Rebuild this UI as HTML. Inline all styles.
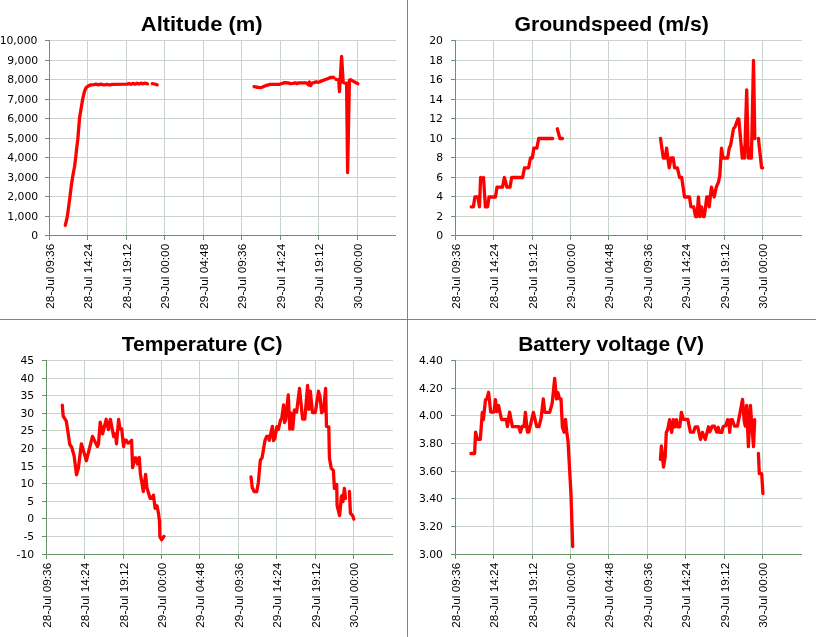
<!DOCTYPE html>
<html><head><meta charset="utf-8"><title>Flight telemetry charts</title>
<style>
html,body{margin:0;padding:0;background:#fff;}
svg{display:block;}
.t{font-family:"Liberation Sans",sans-serif;font-weight:bold;font-size:21px;fill:#000;}
.y{font-family:"DejaVu Sans","Liberation Sans",sans-serif;font-size:10.8px;fill:#000;text-anchor:end;}
.x{font-family:"Liberation Sans",sans-serif;font-size:11.8px;fill:#000;text-anchor:end;}
.g{stroke:#C9D3C9;stroke-width:1;shape-rendering:crispEdges;fill:none;}
.a{shape-rendering:crispEdges;}
.d{fill:none;stroke:#FF0000;stroke-width:3.3;stroke-linejoin:round;stroke-linecap:round;}
</style></head><body>
<svg width="816" height="637" viewBox="0 0 816 637">
<defs>
<pattern id="dz" x="0" y="0" width="2" height="2" patternUnits="userSpaceOnUse">
<rect x="0" y="0" width="2" height="2" fill="#AA80AA"/>
<rect x="0" y="0" width="1" height="1" fill="#598359"/>
<rect x="1" y="1" width="1" height="1" fill="#598359"/>
</pattern>
</defs>
<rect x="0" y="0" width="816" height="637" fill="#FFFFFF"/>
<rect class="a" x="407" y="0" width="1" height="637" fill="url(#dz)"/>
<rect class="a" x="0" y="319" width="816" height="1" fill="url(#dz)"/>

<g>
<rect class="a" x="50" y="216" width="346" height="1" fill="#C9D3C9"/>
<rect class="a" x="50" y="196" width="346" height="1" fill="#C9D3C9"/>
<rect class="a" x="50" y="177" width="346" height="1" fill="#C9D3C9"/>
<rect class="a" x="50" y="157" width="346" height="1" fill="#C9D3C9"/>
<rect class="a" x="50" y="138" width="346" height="1" fill="#C9D3C9"/>
<rect class="a" x="50" y="118" width="346" height="1" fill="#C9D3C9"/>
<rect class="a" x="50" y="99" width="346" height="1" fill="#C9D3C9"/>
<rect class="a" x="50" y="79" width="346" height="1" fill="#C9D3C9"/>
<rect class="a" x="50" y="60" width="346" height="1" fill="#C9D3C9"/>
<rect class="a" x="50" y="40" width="346" height="1" fill="#C9D3C9"/>
<rect class="a" x="87" y="40" width="1" height="195" fill="#C9D3C9"/>
<rect class="a" x="126" y="40" width="1" height="195" fill="#C9D3C9"/>
<rect class="a" x="164" y="40" width="1" height="195" fill="#C9D3C9"/>
<rect class="a" x="203" y="40" width="1" height="195" fill="#C9D3C9"/>
<rect class="a" x="241" y="40" width="1" height="195" fill="#C9D3C9"/>
<rect class="a" x="280" y="40" width="1" height="195" fill="#C9D3C9"/>
<rect class="a" x="318" y="40" width="1" height="195" fill="#C9D3C9"/>
<rect class="a" x="357" y="40" width="1" height="195" fill="#C9D3C9"/>
<rect class="a" x="49" y="40" width="1" height="196" fill="url(#dz)"/>
<rect class="a" x="49" y="235" width="347" height="1" fill="url(#dz)"/>
<rect class="a" x="45" y="235" width="4" height="1" fill="url(#dz)"/>
<rect class="a" x="45" y="216" width="4" height="1" fill="url(#dz)"/>
<rect class="a" x="45" y="196" width="4" height="1" fill="url(#dz)"/>
<rect class="a" x="45" y="177" width="4" height="1" fill="url(#dz)"/>
<rect class="a" x="45" y="157" width="4" height="1" fill="url(#dz)"/>
<rect class="a" x="45" y="138" width="4" height="1" fill="url(#dz)"/>
<rect class="a" x="45" y="118" width="4" height="1" fill="url(#dz)"/>
<rect class="a" x="45" y="99" width="4" height="1" fill="url(#dz)"/>
<rect class="a" x="45" y="79" width="4" height="1" fill="url(#dz)"/>
<rect class="a" x="45" y="60" width="4" height="1" fill="url(#dz)"/>
<rect class="a" x="45" y="40" width="4" height="1" fill="url(#dz)"/>
<rect class="a" x="49" y="236" width="1" height="4" fill="url(#dz)"/>
<rect class="a" x="87" y="236" width="1" height="4" fill="url(#dz)"/>
<rect class="a" x="126" y="236" width="1" height="4" fill="url(#dz)"/>
<rect class="a" x="164" y="236" width="1" height="4" fill="url(#dz)"/>
<rect class="a" x="203" y="236" width="1" height="4" fill="url(#dz)"/>
<rect class="a" x="241" y="236" width="1" height="4" fill="url(#dz)"/>
<rect class="a" x="280" y="236" width="1" height="4" fill="url(#dz)"/>
<rect class="a" x="318" y="236" width="1" height="4" fill="url(#dz)"/>
<rect class="a" x="357" y="236" width="1" height="4" fill="url(#dz)"/>
<text class="t" x="140.8" y="31.4" textLength="121.8" lengthAdjust="spacingAndGlyphs">Altitude (m)</text>
<text class="y" x="38.2" y="239.3">0</text>
<text class="y" x="38.2" y="220.3">1,000</text>
<text class="y" x="38.2" y="200.3">2,000</text>
<text class="y" x="38.2" y="181.3">3,000</text>
<text class="y" x="38.2" y="161.3">4,000</text>
<text class="y" x="38.2" y="142.3">5,000</text>
<text class="y" x="38.2" y="122.3">6,000</text>
<text class="y" x="38.2" y="103.3">7,000</text>
<text class="y" x="38.2" y="83.3">8,000</text>
<text class="y" x="38.2" y="64.3">9,000</text>
<text class="y" x="37.4" y="44.3">10,000</text>
<text class="x" transform="translate(54.0,243.8) rotate(-90)" x="0" y="0">28-Jul 09:36</text>
<text class="x" transform="translate(92.0,243.8) rotate(-90)" x="0" y="0">28-Jul 14:24</text>
<text class="x" transform="translate(131.0,243.8) rotate(-90)" x="0" y="0">28-Jul 19:12</text>
<text class="x" transform="translate(169.0,243.8) rotate(-90)" x="0" y="0">29-Jul 00:00</text>
<text class="x" transform="translate(208.0,243.8) rotate(-90)" x="0" y="0">29-Jul 04:48</text>
<text class="x" transform="translate(246.0,243.8) rotate(-90)" x="0" y="0">29-Jul 09:36</text>
<text class="x" transform="translate(285.0,243.8) rotate(-90)" x="0" y="0">29-Jul 14:24</text>
<text class="x" transform="translate(323.0,243.8) rotate(-90)" x="0" y="0">29-Jul 19:12</text>
<text class="x" transform="translate(362.0,243.8) rotate(-90)" x="0" y="0">30-Jul 00:00</text>
<polyline class="d" points="65.3,225.4 67.3,216.6 68.7,206.5 70.0,196.5 71.4,185.0 72.8,176.0 74.6,166.3 75.7,157.5 76.5,150.0 77.9,138.4 79.5,118.3 82.6,99.5 84.5,91.3 86.2,87.5 88.9,85.6 91.0,84.9 94.0,84.6 96.0,84.2 98.0,84.8 101.0,84.2 104.0,85.0 107.0,84.3 110.0,85.0 112.0,84.4 127.0,84.2 129.0,83.6 131.0,84.3 133.0,83.4 135.0,84.2 137.0,83.2 139.0,84.0 141.0,83.2 143.0,83.8 145.0,83.1 147.5,83.8"/>
<polyline class="d" points="152.3,83.6 154.5,84.0 157.2,84.8"/>
<polyline class="d" points="254.1,86.6 256.0,87.0 259.7,87.6 262.0,87.3 266.0,85.6 270.0,84.4 279.6,84.3 284.7,82.6 288.0,82.8 290.6,83.6 293.0,83.4 295.0,82.8 297.0,83.6 299.0,82.8 306.5,82.8 308.5,85.0 309.5,82.0 310.7,85.6 312.0,83.0 314.0,82.6 316.0,81.8 318.5,82.4 320.0,81.6 324.0,80.0 328.0,78.6 331.0,77.3 333.8,77.4"/>
<polyline class="d" points="336.0,79.4 338.7,79.8 339.5,91.6 341.6,56.3 343.2,82.5 345.8,83.3 346.6,83.2 347.6,172.5 349.4,80.4 350.4,79.6 354.0,81.6 357.9,83.7"/>
</g>
<g>
<rect class="a" x="456" y="216" width="346" height="1" fill="#C9D3C9"/>
<rect class="a" x="456" y="196" width="346" height="1" fill="#C9D3C9"/>
<rect class="a" x="456" y="177" width="346" height="1" fill="#C9D3C9"/>
<rect class="a" x="456" y="157" width="346" height="1" fill="#C9D3C9"/>
<rect class="a" x="456" y="138" width="346" height="1" fill="#C9D3C9"/>
<rect class="a" x="456" y="118" width="346" height="1" fill="#C9D3C9"/>
<rect class="a" x="456" y="99" width="346" height="1" fill="#C9D3C9"/>
<rect class="a" x="456" y="79" width="346" height="1" fill="#C9D3C9"/>
<rect class="a" x="456" y="60" width="346" height="1" fill="#C9D3C9"/>
<rect class="a" x="456" y="40" width="346" height="1" fill="#C9D3C9"/>
<rect class="a" x="493" y="40" width="1" height="195" fill="#C9D3C9"/>
<rect class="a" x="532" y="40" width="1" height="195" fill="#C9D3C9"/>
<rect class="a" x="570" y="40" width="1" height="195" fill="#C9D3C9"/>
<rect class="a" x="608" y="40" width="1" height="195" fill="#C9D3C9"/>
<rect class="a" x="647" y="40" width="1" height="195" fill="#C9D3C9"/>
<rect class="a" x="685" y="40" width="1" height="195" fill="#C9D3C9"/>
<rect class="a" x="724" y="40" width="1" height="195" fill="#C9D3C9"/>
<rect class="a" x="762" y="40" width="1" height="195" fill="#C9D3C9"/>
<rect class="a" x="455" y="40" width="1" height="196" fill="url(#dz)"/>
<rect class="a" x="455" y="235" width="347" height="1" fill="url(#dz)"/>
<rect class="a" x="451" y="235" width="4" height="1" fill="url(#dz)"/>
<rect class="a" x="451" y="216" width="4" height="1" fill="url(#dz)"/>
<rect class="a" x="451" y="196" width="4" height="1" fill="url(#dz)"/>
<rect class="a" x="451" y="177" width="4" height="1" fill="url(#dz)"/>
<rect class="a" x="451" y="157" width="4" height="1" fill="url(#dz)"/>
<rect class="a" x="451" y="138" width="4" height="1" fill="url(#dz)"/>
<rect class="a" x="451" y="118" width="4" height="1" fill="url(#dz)"/>
<rect class="a" x="451" y="99" width="4" height="1" fill="url(#dz)"/>
<rect class="a" x="451" y="79" width="4" height="1" fill="url(#dz)"/>
<rect class="a" x="451" y="60" width="4" height="1" fill="url(#dz)"/>
<rect class="a" x="451" y="40" width="4" height="1" fill="url(#dz)"/>
<rect class="a" x="455" y="236" width="1" height="4" fill="url(#dz)"/>
<rect class="a" x="493" y="236" width="1" height="4" fill="url(#dz)"/>
<rect class="a" x="532" y="236" width="1" height="4" fill="url(#dz)"/>
<rect class="a" x="570" y="236" width="1" height="4" fill="url(#dz)"/>
<rect class="a" x="608" y="236" width="1" height="4" fill="url(#dz)"/>
<rect class="a" x="647" y="236" width="1" height="4" fill="url(#dz)"/>
<rect class="a" x="685" y="236" width="1" height="4" fill="url(#dz)"/>
<rect class="a" x="724" y="236" width="1" height="4" fill="url(#dz)"/>
<rect class="a" x="762" y="236" width="1" height="4" fill="url(#dz)"/>
<text class="t" x="514.4" y="31.4" textLength="194.4" lengthAdjust="spacingAndGlyphs">Groundspeed (m/s)</text>
<text class="y" x="443.0" y="239.3">0</text>
<text class="y" x="443.0" y="220.3">2</text>
<text class="y" x="443.0" y="200.3">4</text>
<text class="y" x="443.0" y="181.3">6</text>
<text class="y" x="443.0" y="161.3">8</text>
<text class="y" x="443.0" y="142.3">10</text>
<text class="y" x="443.0" y="122.3">12</text>
<text class="y" x="443.0" y="103.3">14</text>
<text class="y" x="443.0" y="83.3">16</text>
<text class="y" x="443.0" y="64.3">18</text>
<text class="y" x="443.0" y="44.3">20</text>
<text class="x" transform="translate(460.0,243.8) rotate(-90)" x="0" y="0">28-Jul 09:36</text>
<text class="x" transform="translate(498.0,243.8) rotate(-90)" x="0" y="0">28-Jul 14:24</text>
<text class="x" transform="translate(537.0,243.8) rotate(-90)" x="0" y="0">28-Jul 19:12</text>
<text class="x" transform="translate(575.0,243.8) rotate(-90)" x="0" y="0">29-Jul 00:00</text>
<text class="x" transform="translate(613.0,243.8) rotate(-90)" x="0" y="0">29-Jul 04:48</text>
<text class="x" transform="translate(652.0,243.8) rotate(-90)" x="0" y="0">29-Jul 09:36</text>
<text class="x" transform="translate(690.0,243.8) rotate(-90)" x="0" y="0">29-Jul 14:24</text>
<text class="x" transform="translate(729.0,243.8) rotate(-90)" x="0" y="0">29-Jul 19:12</text>
<text class="x" transform="translate(767.0,243.8) rotate(-90)" x="0" y="0">30-Jul 00:00</text>
<polyline class="d" points="471.2,206.8 473.4,206.8 474.9,197.0 477.9,197.0 479.5,206.8 480.6,177.5 482.0,179.4 483.5,177.5 485.4,206.8 487.6,206.8 489.0,197.0 495.5,197.0 497.0,187.2 502.5,187.2 504.4,177.5 507.0,187.2 510.0,187.2 511.7,177.5 522.6,177.5 524.5,167.8 528.6,167.8 530.5,158.0 532.3,158.0 533.8,148.2 536.8,148.2 538.7,138.5 552.7,138.5"/>
<polyline class="d" points="557.3,128.8 559.9,138.5 562.5,138.5"/>
<polyline class="d" points="660.5,138.5 663.3,158.0 665.4,158.0 666.6,148.2 669.2,167.8 671.1,158.0 673.2,158.0 674.6,167.8 677.4,167.8 679.6,177.5 681.7,177.5 684.5,197.0 689.5,197.0 690.9,206.8 693.7,206.8 695.5,216.5 697.0,216.5 698.4,197.0 700.0,216.5 701.5,206.8 703.2,216.5 704.3,216.5 706.8,197.0 708.3,197.0 709.2,206.8 711.4,187.2 714.2,197.0 716.3,187.2 718.4,182.4 719.8,175.6 721.5,148.2 722.9,158.0 727.7,158.0 729.2,148.2 730.6,145.3 733.5,128.8 735.1,126.8 737.8,119.0 738.8,119.0 742.3,158.0 743.3,148.2 744.6,158.0 746.7,89.8 748.3,158.0 749.2,148.2 750.1,158.0 751.4,158.0 753.5,60.5 754.8,138.5"/>
<polyline class="d" points="758.4,138.5 761.6,167.8 762.7,167.8"/>
</g>
<g>
<rect class="a" x="47" y="536" width="346" height="1" fill="#C9D3C9"/>
<rect class="a" x="47" y="518" width="346" height="1" fill="#C9D3C9"/>
<rect class="a" x="47" y="501" width="346" height="1" fill="#C9D3C9"/>
<rect class="a" x="47" y="483" width="346" height="1" fill="#C9D3C9"/>
<rect class="a" x="47" y="466" width="346" height="1" fill="#C9D3C9"/>
<rect class="a" x="47" y="448" width="346" height="1" fill="#C9D3C9"/>
<rect class="a" x="47" y="430" width="346" height="1" fill="#C9D3C9"/>
<rect class="a" x="47" y="413" width="346" height="1" fill="#C9D3C9"/>
<rect class="a" x="47" y="395" width="346" height="1" fill="#C9D3C9"/>
<rect class="a" x="47" y="378" width="346" height="1" fill="#C9D3C9"/>
<rect class="a" x="47" y="360" width="346" height="1" fill="#C9D3C9"/>
<rect class="a" x="84" y="360" width="1" height="194" fill="#C9D3C9"/>
<rect class="a" x="123" y="360" width="1" height="194" fill="#C9D3C9"/>
<rect class="a" x="161" y="360" width="1" height="194" fill="#C9D3C9"/>
<rect class="a" x="199" y="360" width="1" height="194" fill="#C9D3C9"/>
<rect class="a" x="238" y="360" width="1" height="194" fill="#C9D3C9"/>
<rect class="a" x="276" y="360" width="1" height="194" fill="#C9D3C9"/>
<rect class="a" x="315" y="360" width="1" height="194" fill="#C9D3C9"/>
<rect class="a" x="353" y="360" width="1" height="194" fill="#C9D3C9"/>
<rect class="a" x="46" y="360" width="1" height="195" fill="url(#dz)"/>
<rect class="a" x="46" y="554" width="347" height="1" fill="url(#dz)"/>
<rect class="a" x="42" y="554" width="4" height="1" fill="url(#dz)"/>
<rect class="a" x="42" y="536" width="4" height="1" fill="url(#dz)"/>
<rect class="a" x="42" y="518" width="4" height="1" fill="url(#dz)"/>
<rect class="a" x="42" y="501" width="4" height="1" fill="url(#dz)"/>
<rect class="a" x="42" y="483" width="4" height="1" fill="url(#dz)"/>
<rect class="a" x="42" y="466" width="4" height="1" fill="url(#dz)"/>
<rect class="a" x="42" y="448" width="4" height="1" fill="url(#dz)"/>
<rect class="a" x="42" y="430" width="4" height="1" fill="url(#dz)"/>
<rect class="a" x="42" y="413" width="4" height="1" fill="url(#dz)"/>
<rect class="a" x="42" y="395" width="4" height="1" fill="url(#dz)"/>
<rect class="a" x="42" y="378" width="4" height="1" fill="url(#dz)"/>
<rect class="a" x="42" y="360" width="4" height="1" fill="url(#dz)"/>
<rect class="a" x="46" y="555" width="1" height="4" fill="url(#dz)"/>
<rect class="a" x="84" y="555" width="1" height="4" fill="url(#dz)"/>
<rect class="a" x="123" y="555" width="1" height="4" fill="url(#dz)"/>
<rect class="a" x="161" y="555" width="1" height="4" fill="url(#dz)"/>
<rect class="a" x="199" y="555" width="1" height="4" fill="url(#dz)"/>
<rect class="a" x="238" y="555" width="1" height="4" fill="url(#dz)"/>
<rect class="a" x="276" y="555" width="1" height="4" fill="url(#dz)"/>
<rect class="a" x="315" y="555" width="1" height="4" fill="url(#dz)"/>
<rect class="a" x="353" y="555" width="1" height="4" fill="url(#dz)"/>
<text class="t" x="121.7" y="351.4" textLength="160.7" lengthAdjust="spacingAndGlyphs">Temperature (C)</text>
<text class="y" x="34.2" y="558.3">-10</text>
<text class="y" x="34.2" y="540.3">-5</text>
<text class="y" x="34.2" y="522.3">0</text>
<text class="y" x="34.2" y="505.3">5</text>
<text class="y" x="34.2" y="487.3">10</text>
<text class="y" x="34.2" y="470.3">15</text>
<text class="y" x="34.2" y="452.3">20</text>
<text class="y" x="34.2" y="434.3">25</text>
<text class="y" x="34.2" y="417.3">30</text>
<text class="y" x="34.2" y="399.3">35</text>
<text class="y" x="34.2" y="382.3">40</text>
<text class="y" x="34.2" y="364.3">45</text>
<text class="x" transform="translate(51.0,562.8) rotate(-90)" x="0" y="0">28-Jul 09:36</text>
<text class="x" transform="translate(89.0,562.8) rotate(-90)" x="0" y="0">28-Jul 14:24</text>
<text class="x" transform="translate(128.0,562.8) rotate(-90)" x="0" y="0">28-Jul 19:12</text>
<text class="x" transform="translate(166.0,562.8) rotate(-90)" x="0" y="0">29-Jul 00:00</text>
<text class="x" transform="translate(204.0,562.8) rotate(-90)" x="0" y="0">29-Jul 04:48</text>
<text class="x" transform="translate(243.0,562.8) rotate(-90)" x="0" y="0">29-Jul 09:36</text>
<text class="x" transform="translate(281.0,562.8) rotate(-90)" x="0" y="0">29-Jul 14:24</text>
<text class="x" transform="translate(320.0,562.8) rotate(-90)" x="0" y="0">29-Jul 19:12</text>
<text class="x" transform="translate(358.0,562.8) rotate(-90)" x="0" y="0">30-Jul 00:00</text>
<polyline class="d" points="62.3,405.2 63.2,416.2 66.3,421.1 69.8,444.5 71.7,447.3 74.1,455.8 76.5,474.9 78.3,468.5 81.4,443.8 86.4,460.7 92.5,436.4 97.4,446.6 98.5,443.8 100.2,422.1 102.6,433.9 106.2,419.3 108.4,429.6 110.4,419.3 113.7,436.7 115.5,433.9 116.5,443.8 118.6,419.3 120.0,428.9 121.7,428.9 123.6,446.6 124.8,440.2 126.3,440.2 127.8,443.1 129.8,442.4 131.6,440.2 132.6,467.6 134.9,458.0 136.0,458.0 137.4,464.0 139.3,457.5 140.4,474.0 143.3,491.5 145.6,474.4 146.9,487.6 150.1,498.3 151.6,498.3 153.5,495.2 155.1,508.3 157.0,505.8 158.6,514.0 159.5,521.5 159.9,536.6 161.6,539.7 163.9,536.4"/>
<polyline class="d" points="251.0,477.0 252.3,487.7 254.3,491.7 256.7,491.7 258.3,483.0 260.3,460.3 262.1,457.7 265.0,440.3 266.7,436.3 268.7,436.3 269.2,440.4 272.4,426.4 273.5,440.5 274.8,438.6 276.9,426.6 278.4,429.3 280.6,419.8 281.7,418.7 283.6,404.9 284.5,422.5 285.6,419.8 288.3,395.0 289.8,429.1 291.1,413.2 292.7,429.1 294.4,409.9 296.6,412.1 299.5,388.4 302.6,419.2 304.8,419.2 307.6,385.5 308.9,409.3 310.3,391.2 312.5,412.6 315.3,412.6 318.5,391.2 320.1,397.2 321.6,412.8 323.6,410.6 325.6,388.3 326.5,426.4 328.8,426.8 329.3,452.0 329.5,458.4 331.3,468.4 333.4,470.4 334.4,488.4 336.7,484.4 337.1,505.7 339.6,515.5 341.4,496.4 342.7,495.0 343.0,501.7 344.4,488.4 345.6,498.4"/>
<polyline class="d" points="349.4,491.5 350.4,513.1 352.7,515.8 353.8,519.1"/>
</g>
<g>
<rect class="a" x="456" y="526" width="346" height="1" fill="#C9D3C9"/>
<rect class="a" x="456" y="498" width="346" height="1" fill="#C9D3C9"/>
<rect class="a" x="456" y="471" width="346" height="1" fill="#C9D3C9"/>
<rect class="a" x="456" y="443" width="346" height="1" fill="#C9D3C9"/>
<rect class="a" x="456" y="415" width="346" height="1" fill="#C9D3C9"/>
<rect class="a" x="456" y="388" width="346" height="1" fill="#C9D3C9"/>
<rect class="a" x="456" y="360" width="346" height="1" fill="#C9D3C9"/>
<rect class="a" x="493" y="360" width="1" height="194" fill="#C9D3C9"/>
<rect class="a" x="532" y="360" width="1" height="194" fill="#C9D3C9"/>
<rect class="a" x="570" y="360" width="1" height="194" fill="#C9D3C9"/>
<rect class="a" x="608" y="360" width="1" height="194" fill="#C9D3C9"/>
<rect class="a" x="647" y="360" width="1" height="194" fill="#C9D3C9"/>
<rect class="a" x="685" y="360" width="1" height="194" fill="#C9D3C9"/>
<rect class="a" x="724" y="360" width="1" height="194" fill="#C9D3C9"/>
<rect class="a" x="762" y="360" width="1" height="194" fill="#C9D3C9"/>
<rect class="a" x="455" y="360" width="1" height="195" fill="url(#dz)"/>
<rect class="a" x="455" y="554" width="347" height="1" fill="url(#dz)"/>
<rect class="a" x="451" y="554" width="4" height="1" fill="url(#dz)"/>
<rect class="a" x="451" y="526" width="4" height="1" fill="url(#dz)"/>
<rect class="a" x="451" y="498" width="4" height="1" fill="url(#dz)"/>
<rect class="a" x="451" y="471" width="4" height="1" fill="url(#dz)"/>
<rect class="a" x="451" y="443" width="4" height="1" fill="url(#dz)"/>
<rect class="a" x="451" y="415" width="4" height="1" fill="url(#dz)"/>
<rect class="a" x="451" y="388" width="4" height="1" fill="url(#dz)"/>
<rect class="a" x="451" y="360" width="4" height="1" fill="url(#dz)"/>
<rect class="a" x="455" y="555" width="1" height="4" fill="url(#dz)"/>
<rect class="a" x="493" y="555" width="1" height="4" fill="url(#dz)"/>
<rect class="a" x="532" y="555" width="1" height="4" fill="url(#dz)"/>
<rect class="a" x="570" y="555" width="1" height="4" fill="url(#dz)"/>
<rect class="a" x="608" y="555" width="1" height="4" fill="url(#dz)"/>
<rect class="a" x="647" y="555" width="1" height="4" fill="url(#dz)"/>
<rect class="a" x="685" y="555" width="1" height="4" fill="url(#dz)"/>
<rect class="a" x="724" y="555" width="1" height="4" fill="url(#dz)"/>
<rect class="a" x="762" y="555" width="1" height="4" fill="url(#dz)"/>
<text class="t" x="518.2" y="351.4" textLength="185.8" lengthAdjust="spacingAndGlyphs">Battery voltage (V)</text>
<text class="y" x="443.0" y="558.3">3.00</text>
<text class="y" x="443.0" y="530.3">3.20</text>
<text class="y" x="443.0" y="502.3">3.40</text>
<text class="y" x="443.0" y="475.3">3.60</text>
<text class="y" x="443.0" y="447.3">3.80</text>
<text class="y" x="443.0" y="419.3">4.00</text>
<text class="y" x="443.0" y="392.3">4.20</text>
<text class="y" x="443.0" y="364.3">4.40</text>
<text class="x" transform="translate(460.0,562.8) rotate(-90)" x="0" y="0">28-Jul 09:36</text>
<text class="x" transform="translate(498.0,562.8) rotate(-90)" x="0" y="0">28-Jul 14:24</text>
<text class="x" transform="translate(537.0,562.8) rotate(-90)" x="0" y="0">28-Jul 19:12</text>
<text class="x" transform="translate(575.0,562.8) rotate(-90)" x="0" y="0">29-Jul 00:00</text>
<text class="x" transform="translate(613.0,562.8) rotate(-90)" x="0" y="0">29-Jul 04:48</text>
<text class="x" transform="translate(652.0,562.8) rotate(-90)" x="0" y="0">29-Jul 09:36</text>
<text class="x" transform="translate(690.0,562.8) rotate(-90)" x="0" y="0">29-Jul 14:24</text>
<text class="x" transform="translate(729.0,562.8) rotate(-90)" x="0" y="0">29-Jul 19:12</text>
<text class="x" transform="translate(767.0,562.8) rotate(-90)" x="0" y="0">30-Jul 00:00</text>
<polyline class="d" points="470.9,453.5 474.6,453.5 475.6,432.2 477.4,439.3 480.3,439.3 482.3,412.4 483.4,419.5 485.5,399.7 486.9,399.0 488.6,392.3 490.7,412.1 494.0,412.1 495.4,399.7 496.8,411.7 498.5,405.4 501.5,419.5 506.4,419.5 507.4,426.6 509.6,412.1 512.4,426.6 518.7,426.6 520.4,432.2 522.0,426.5 524.0,426.5 525.4,412.4 527.4,432.2 528.8,432.2 533.4,412.4 536.7,426.5 539.1,426.5 541.2,417.3 543.3,398.9 544.8,412.4 549.7,412.4 552.2,403.2 554.7,378.4 556.5,398.9 557.9,392.6 559.6,398.9 561.0,398.9 562.4,427.2 564.1,432.2 565.5,419.5 566.7,431.5 568.0,441.0 570.9,492.4 572.7,546.5"/>
<polyline class="d" points="660.4,459.3 661.4,445.9 663.5,467.1 665.2,456.5 666.3,432.4 667.7,429.6 669.6,419.7 671.7,432.4 673.4,419.7 674.8,426.8 676.5,419.7 677.6,426.8 679.8,426.8 681.4,412.3 683.3,419.4 687.8,419.4 690.4,432.1 693.5,432.1 695.3,426.8 697.7,426.8 700.5,439.5 702.4,432.4 705.2,439.5 708.5,426.8 709.9,431.7 712.3,426.1 714.4,426.1 716.8,432.1 718.2,427.4 719.5,432.3 721.9,432.3 723.1,426.5 725.7,425.7 727.7,419.6 728.7,420.6 729.7,432.3 730.8,419.6 732.3,419.6 734.5,426.2 737.4,426.2 739.9,413.5 742.5,399.4 744.3,421.6 745.3,426.2 746.6,405.3 748.4,446.6 750.4,405.3 753.5,446.6 754.7,419.6"/>
<polyline class="d" points="758.4,453.5 759.3,473.6 761.7,473.6 762.9,493.5"/>
</g>
</svg>
</body></html>
